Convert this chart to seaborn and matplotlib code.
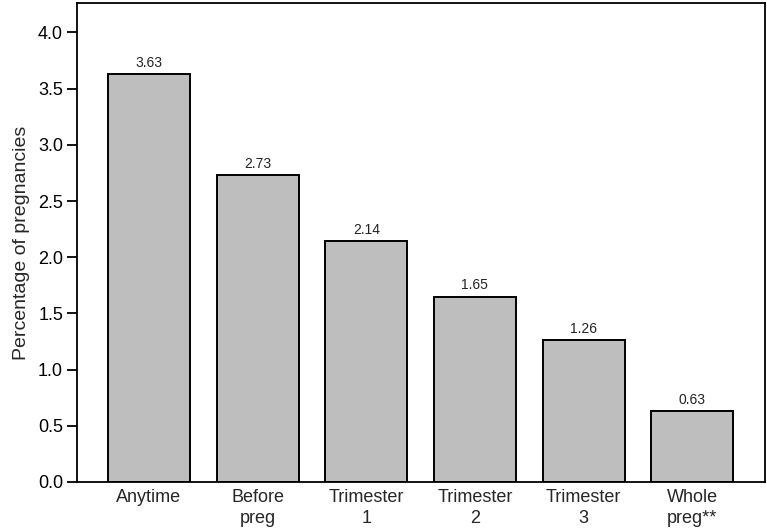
import pandas as pd
import seaborn as sns
import matplotlib.pyplot as plt

# data
periods = ["Anytime", "Before\npreg", "Trimester\n1", "Trimester\n2", "Trimester\n3", "Whole\npreg**"]
percent = [3.63, 2.73, 2.14, 1.65, 1.26, 0.63]
yticks = [0.0, 0.5, 1.0, 1.5, 2.0, 2.5, 3.0, 3.5, 4.0]

df = pd.DataFrame({"period": periods, "percent": percent})

sns.set_style("ticks")
plt.rcParams["font.family"] = ["Liberation Sans", "DejaVu Sans"]

fig = plt.figure(figsize=(7.67, 5.32), dpi=100)
ax = fig.add_axes([0.1004, 0.094, 0.8966, 0.9])

sns.barplot(data=df, x="period", y="percent", color="#bebebe", saturation=1,
            width=0.755, edgecolor="black", linewidth=1.4, ax=ax)

# value labels above each bar
for p, v in zip(ax.patches, percent):
    ax.annotate(f"{v:.2f}", (p.get_x() + p.get_width() / 2, p.get_height()),
                xytext=(0, 3), textcoords="offset points",
                ha="center", va="bottom", fontsize=10, color="#222222")

ax.set_xlim(-0.662, 5.667)
ax.set_ylim(0, 4.26)
ax.set_yticks(yticks)
ax.set_yticklabels([f"{t:.1f}" for t in yticks])
ax.set_xlabel("")
ax.set_ylabel("Percentage of pregnancies", fontsize=14, labelpad=6)

for s in ax.spines.values():
    s.set_visible(True)
    s.set_color("black")
    s.set_linewidth(1.3)

ax.tick_params(axis="y", length=7, width=1.3, labelsize=13, pad=3, colors="black")
ax.tick_params(axis="x", length=0, labelsize=13, pad=5)
for lab in ax.get_xticklabels():
    lab.set_linespacing(1.3)

plt.savefig("out.png", dpi=100)
